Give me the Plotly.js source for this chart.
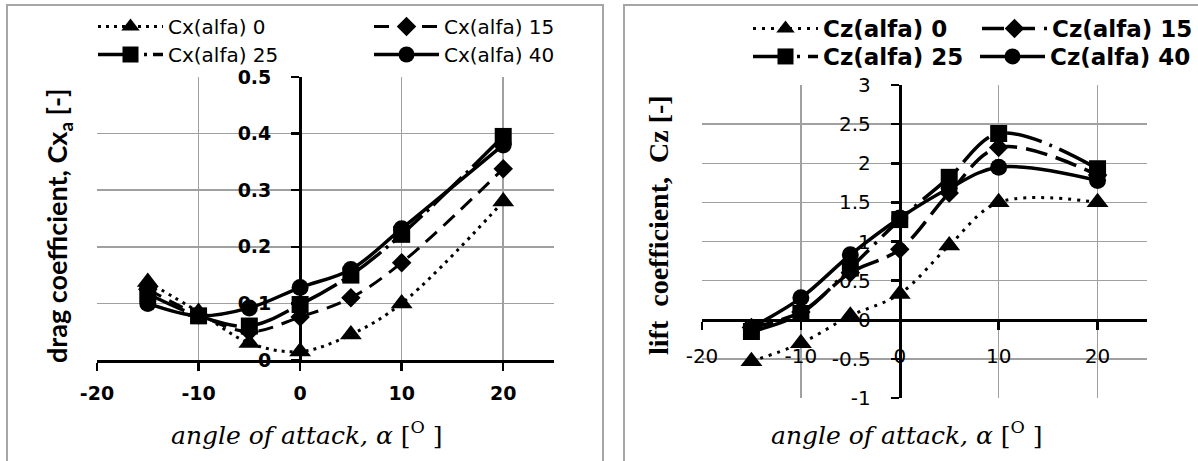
<!DOCTYPE html>
<html><head><meta charset="utf-8">
<script src="https://cdn.plot.ly/plotly-3.0.1.min.js"></script>
<style>html,body{margin:0;padding:0;background:#fff;}#chart{width:1198px;height:461px;}</style>
</head><body><div id="chart"></div>
<script>
// ---- data ----
const angles = [-15, -10, -5, 0, 5, 10, 20];
const cx0  = [0.138, 0.085, 0.030, 0.015, 0.045, 0.100, 0.280];
const cx15 = [0.125, 0.080, 0.050, 0.076, 0.110, 0.172, 0.338];
const cx25 = [0.117, 0.078, 0.060, 0.098, 0.150, 0.222, 0.395];
const cx40 = [0.100, 0.078, 0.092, 0.128, 0.160, 0.232, 0.380];
const cz0  = [-0.53, -0.30, 0.05, 0.33, 0.95, 1.50, 1.50];
const cz15 = [-0.10, 0.10, 0.60, 0.90, 1.62, 2.20, 1.85];
const cz25 = [-0.15, 0.08, 0.66, 1.28, 1.82, 2.38, 1.93];
const cz40 = [-0.10, 0.28, 0.83, 1.30, 1.68, 1.95, 1.78];
const cxNames = ['Cx(alfa) 0', 'Cx(alfa) 15', 'Cx(alfa) 25', 'Cx(alfa) 40'];
const czNames = ['Cz(alfa) 0', 'Cz(alfa) 15', 'Cz(alfa) 25', 'Cz(alfa) 40'];
const xTickVals = [-20, -10, 0, 10, 20];
const xTickText = ['-20', '-10', '0', '10', '20'];
const cxTickVals = [0, 0.1, 0.2, 0.3, 0.4, 0.5];
const cxTickText = ['0', '0.1', '0.2', '0.3', '0.4', '0.5'];
const czTickVals = [-1, -0.5, 0, 0.5, 1, 1.5, 2, 2.5, 3];
const czTickText = ['-1', '-0.5', '0', '0.5', '1', '1.5', '2', '2.5', '3'];
const xRange = [-20, 25];
const cxRange = [0, 0.5];
const czRange = [-1, 3];

// ---- styles ----
const W = 1198, H = 461;
const leftStyles = [
  {symbol: 'triangle-up', size: 19, dash: '3px,5px', width: 3},
  {symbol: 'diamond', size: 15, dash: '15px,9px', width: 3},
  {symbol: 'square', size: 17, dash: '40px,6px,3px,6px', width: 3.5},
  {symbol: 'circle', size: 17, dash: 'solid', width: 3.5}
];
const rightStyles = [
  {symbol: 'triangle-up', size: 19, dash: '3px,6px', width: 3},
  {symbol: 'diamond', size: 15, dash: '22px,9px', width: 3.5},
  {symbol: 'square', size: 17, dash: '36px,8px,3px,8px', width: 3.5},
  {symbol: 'circle', size: 17, dash: 'solid', width: 3.5}
];
// legend item placement (text start x, row centre y) in pixels
const leftLegPos = [[168, 22], [444, 22], [168, 50], [444, 50]];
const rightLegPos = [[823, 22], [1052, 22], [823, 50], [1050, 50]];

function mk(ys, name, st, xa, ya, leg) {
  return {
    x: angles, y: ys, name: name, type: 'scatter', mode: 'lines+markers',
    xaxis: xa, yaxis: ya, legend: leg,
    line: {color: '#000', width: st.width, dash: st.dash, shape: 'spline', smoothing: 1},
    marker: {color: '#000', symbol: st.symbol, size: st.size}
  };
}
const cxSeries = [cx0, cx15, cx25, cx40];
const czSeries = [cz0, cz15, cz25, cz40];
const traces = [];
cxSeries.forEach((s, i) => traces.push(mk(s, cxNames[i], leftStyles[i], 'x', 'y', 'legend' + (i + 2))));
czSeries.forEach((s, i) => traces.push(mk(s, czNames[i], rightStyles[i], 'x2', 'y2', 'legend' + (i + 6))));

// geometry (pixels -> paper)
const Lx = [97 / W, 554 / W], Ly = [(H - 360) / H, (H - 77) / H];
const Rx = [702 / W, 1147 / W], Ry = [(H - 398) / H, (H - 85) / H];
function posAt(dom, rng, v) { return dom[0] + (v - rng[0]) / (rng[1] - rng[0]) * (dom[1] - dom[0]); }
const LyAxisPos = posAt(Lx, xRange, 0);
const RyAxisPos = posAt(Rx, xRange, 0);
const RxAxisPos = posAt(Ry, czRange, 0);

const gridC = '#a0a0a0';
const sansB = {family: 'DejaVu Sans', size: 19, color: '#000', weight: 'bold'};
const sansR = {family: 'DejaVu Sans', size: 20, color: '#000'};

function baseAx(extra) {
  return Object.assign({
    showgrid: true, gridcolor: gridC, gridwidth: 1.5, zeroline: false,
    showline: true, linecolor: '#000', linewidth: 3,
    ticks: 'outside', ticklen: 8, tickwidth: 2.5, tickcolor: '#000',
    ticklabelstandoff: 16, fixedrange: true, tickmode: 'array'
  }, extra);
}
function crossAx(extra) {
  return Object.assign({
    showgrid: false, zeroline: false, showline: false, showticklabels: false,
    ticks: 'inside', ticklen: 8, tickwidth: 2.5, tickcolor: '#000', fixedrange: true, tickmode: 'array'
  }, extra);
}

const layout = {
  width: W, height: H, margin: {l: 0, r: 0, t: 0, b: 0, autoexpand: false},
  paper_bgcolor: '#fff', plot_bgcolor: 'rgba(0,0,0,0)', showlegend: true,
  xaxis: baseAx({domain: Lx, range: xRange, anchor: 'y', tickvals: xTickVals, ticktext: xTickText, tickfont: sansB, ticklabelstandoff: 6}),
  yaxis: baseAx({domain: Ly, range: cxRange, anchor: 'free', position: LyAxisPos, tickvals: cxTickVals, ticktext: cxTickText, tickfont: sansB}),
  xaxis2: baseAx({domain: Rx, range: xRange, anchor: 'free', position: RxAxisPos, tickvals: xTickVals, ticktext: xTickText, tickfont: sansR, ticklabelstandoff: 9}),
  yaxis2: baseAx({domain: Ry, range: czRange, anchor: 'free', position: RyAxisPos, tickvals: czTickVals, ticktext: czTickText, tickfont: sansR}),
  xaxis3: crossAx({overlaying: 'x', anchor: 'y', range: xRange, tickvals: xTickVals}),
  yaxis3: crossAx({overlaying: 'y', anchor: 'free', position: LyAxisPos, range: cxRange, tickvals: cxTickVals}),
  xaxis4: crossAx({overlaying: 'x2', anchor: 'free', position: RxAxisPos, range: xRange, tickvals: xTickVals}),
  yaxis4: crossAx({overlaying: 'y2', anchor: 'free', position: RyAxisPos, range: czRange, tickvals: czTickVals}),
  shapes: [
    {type: 'rect', xref: 'paper', yref: 'paper', x0: 7 / W, x1: 603 / W, y0: -0.2, y1: 1 - 5 / H, line: {color: '#a6a6a6', width: 2}, layer: 'below'},
    {type: 'rect', xref: 'paper', yref: 'paper', x0: 624 / W, x1: 1.2, y0: -0.2, y1: 1 - 5 / H, line: {color: '#a6a6a6', width: 2}, layer: 'below'}
  ],
  annotations: [
    {xref: 'paper', yref: 'paper', x: 59 / W, y: 1 - 226 / H, xanchor: 'center', yanchor: 'middle', showarrow: false, textangle: -90,
     text: 'drag coefficient, Cx<sub>a</sub> [-]', font: {family: 'Lato', size: 27, color: '#000', weight: 'bold'}},
    {xref: 'paper', yref: 'paper', x: 658 / W, y: 1 - 225 / H, xanchor: 'center', yanchor: 'middle', showarrow: false, textangle: -90,
     text: 'lift  coefficient,  Cz [-]', font: {family: 'Liberation Serif', size: 28, color: '#000', weight: 'bold'}},
    {xref: 'paper', yref: 'paper', x: 307 / W, y: 1 - 433 / H, xanchor: 'center', yanchor: 'middle', showarrow: false,
     text: '<i>angle of attack, α</i> [<sup>O</sup> ]', font: {family: 'DejaVu Serif', size: 25, color: '#000'}},
    {xref: 'paper', yref: 'paper', x: 907 / W, y: 1 - 433 / H, xanchor: 'center', yanchor: 'middle', showarrow: false,
     text: '<i>angle of attack, α</i> [<sup>O</sup> ]', font: {family: 'DejaVu Serif', size: 25, color: '#000'}}
  ]
};

const ITEM_W = 65;
function legendAt(pos, font) {
  return {
    x: (pos[0] - ITEM_W - 10) / W, y: 1 - (pos[1] - 15) / H, xanchor: 'left', yanchor: 'top', orientation: 'v',
    itemwidth: ITEM_W, font: font, bgcolor: 'rgba(0,0,0,0)', borderwidth: 0,
    itemclick: false, itemdoubleclick: false
  };
}
const leftLegFont = {family: 'DejaVu Sans', size: 20, color: '#000'};
const rightLegFont = {family: 'DejaVu Sans', size: 23, color: '#000', weight: 'bold'};
leftLegPos.forEach((p, i) => { layout['legend' + (i + 2)] = legendAt(p, leftLegFont); });
rightLegPos.forEach((p, i) => { layout['legend' + (i + 6)] = legendAt(p, rightLegFont); });

Plotly.newPlot('chart', traces, layout, {staticPlot: true, displayModeBar: false});
</script></body></html>
